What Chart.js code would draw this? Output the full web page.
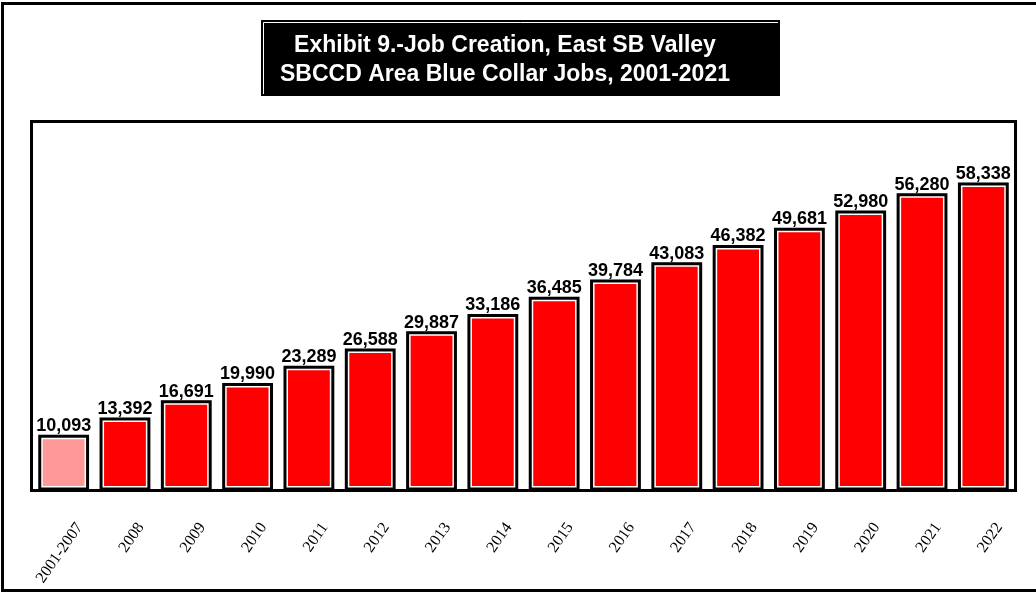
<!DOCTYPE html>
<html>
<head>
<meta charset="utf-8">
<script src="https://cdn.jsdelivr.net/npm/chart.js@4.4.1/dist/chart.umd.min.js"></script>
<style>
  html, body { margin: 0; padding: 0; background: #fff; }
  #wrap { width: 1036px; height: 593px; position: relative; }
</style>
</head>
<body>
<div id="wrap"><canvas id="jobsChart"></canvas></div>
<script>
// Blue collar job creation, cumulative
const years = ['2001-2007', '2008', '2009', '2010', '2011', '2012', '2013', '2014',
  '2015', '2016', '2017', '2018', '2019', '2020', '2021', '2022'];
const jobs = [10093, 13392, 16691, 19990, 23289, 26588, 29887, 33186,
  36485, 39784, 43083, 46382, 49681, 52980, 56280, 58338];
const titleLines = ['Exhibit 9.-Job Creation, East SB Valley', 'SBCCD Area Blue Collar Jobs, 2001-2021'];

const barColors = jobs.map((v, i) => i === 0 ? '#ff9999' : '#ff0000');

// frame, title box, plot border, bar outlines and value labels
const decor = {
  id: 'decor',
  beforeDraw(chart) {
    const ctx = chart.ctx;
    ctx.save();
    ctx.fillStyle = '#fff';
    ctx.fillRect(0, 0, chart.width, chart.height);

    // outer frame (right side runs off the canvas)
    ctx.strokeStyle = '#000';
    ctx.lineWidth = 3;
    ctx.strokeRect(2.5, 3.5, chart.width + 10, 587);

    // title box
    ctx.fillStyle = '#000';
    ctx.fillRect(261, 20, 519, 76);
    ctx.strokeStyle = '#fff';
    ctx.lineWidth = 1;
    ctx.beginPath();
    ctx.moveTo(263.5, 94);
    ctx.lineTo(263.5, 22.5);
    ctx.lineTo(778, 22.5);
    ctx.stroke();

    ctx.fillStyle = '#fff';
    ctx.font = 'bold 23px "Liberation Sans", Arial, sans-serif';
    ctx.textAlign = 'center';
    ctx.textBaseline = 'alphabetic';
    ctx.fillText(titleLines[0], 505, 52);
    ctx.fillText(titleLines[1], 505, 81);
    ctx.restore();
  },
  afterDatasetsDraw(chart) {
    const ctx = chart.ctx;
    const a = chart.chartArea;
    ctx.save();
    ctx.strokeStyle = '#000';
    ctx.lineWidth = 3;
    ctx.strokeRect(a.left - 1.5, a.top - 1.5, a.right - a.left + 3, a.bottom - a.top + 3);

    const meta = chart.getDatasetMeta(0);
    ctx.font = 'bold 18px "Liberation Sans", Arial, sans-serif';
    ctx.textAlign = 'center';
    ctx.textBaseline = 'alphabetic';
    meta.data.forEach((bar, i) => {
      const p = bar.getProps(['x', 'y', 'base', 'width'], true);
      ctx.strokeStyle = '#000';
      ctx.lineWidth = 3;
      ctx.strokeRect(p.x - p.width / 2, p.y, p.width, p.base - p.y);
      ctx.fillStyle = '#000';
      ctx.fillText(jobs[i].toLocaleString('en-US'), p.x, p.y - 5);
    });
    ctx.restore();
  }
};

new Chart(document.getElementById('jobsChart'), {
  type: 'bar',
  data: {
    labels: years,
    datasets: [{
      data: jobs,
      backgroundColor: barColors,
      borderColor: '#fff',
      borderWidth: 3,
      borderSkipped: false,
      barPercentage: 0.78,
      categoryPercentage: 1
    }]
  },
  options: {
    responsive: true,
    maintainAspectRatio: false,
    animation: false,
    layout: { padding: { left: 33, right: 22, top: 123, bottom: 4 } },
    plugins: { legend: { display: false }, tooltip: { enabled: false } },
    scales: {
      x: {
        grid: { display: false },
        border: { display: false },
        afterFit(scale) { scale.height = 100; },
        ticks: {
          minRotation: 55,
          maxRotation: 55,
          autoSkip: false,
          padding: 22,
          labelOffset: 16,
          color: '#000',
          font: { family: '"Liberation Serif", "Times New Roman", serif', size: 16 }
        }
      },
      y: {
        display: false,
        min: 0,
        max: 70000
      }
    }
  },
  plugins: [decor]
});
</script>
</body>
</html>
